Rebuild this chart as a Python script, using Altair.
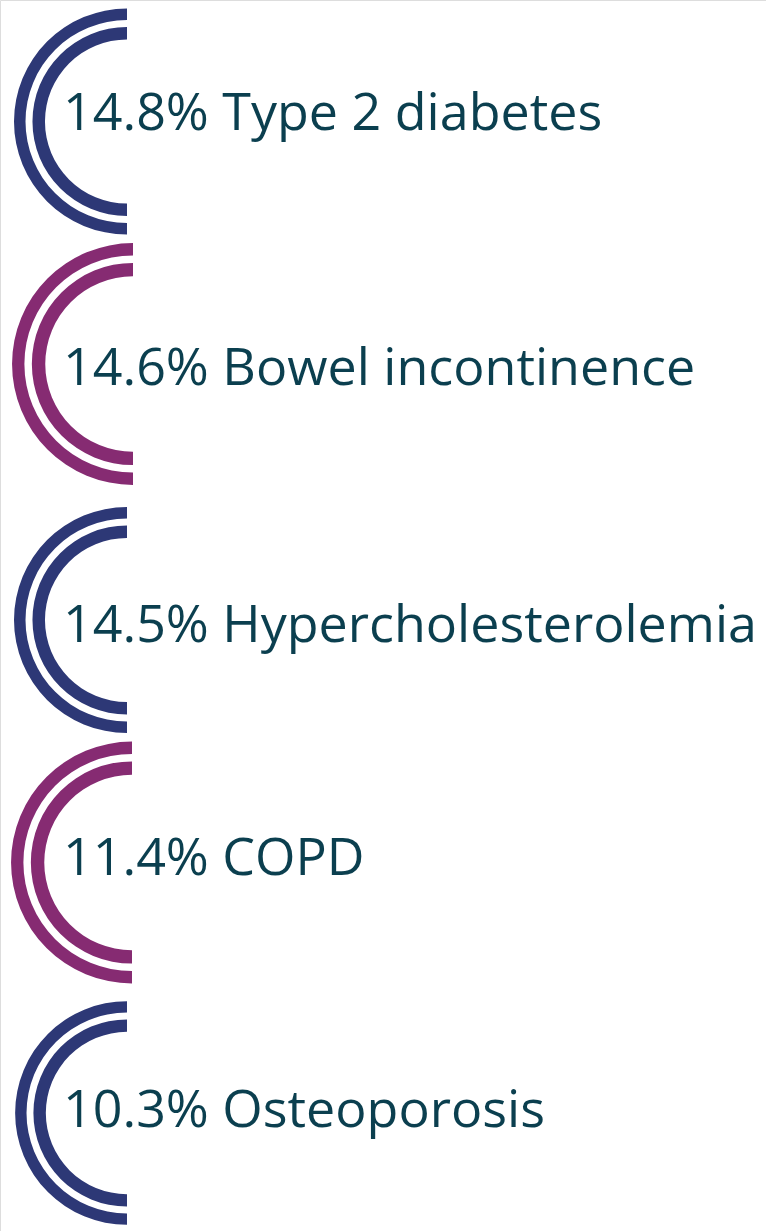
import math
import altair as alt
import pandas as pd

# Comorbidity prevalence, one double ring per condition
conditions = ["Type 2 diabetes", "Bowel incontinence", "Hypercholesterolemia", "COPD", "Osteoporosis"]
prevalence = [14.8, 14.6, 14.5, 11.4, 10.3]
ring_colors = ["#2d3876", "#862b72", "#2d3876", "#862b72", "#2d3876"]

# Layout constants (pixels)
W, H = 766, 1231
ring_cx = [127, 133, 127, 132, 127]
ring_cy = [121.5, 364, 620, 862.5, 1113]
ring_scale = [1.0, 1.07, 1.0, 1.07, 0.99]
text_baseline = [130, 385, 642, 875, 1127]
TEXT_X = 63
# inner/outer radii of the two bands for a ring of scale 1
BANDS = [(101.5, 113.0), (82.0, 94.5)]

rings = []
for i, (cond, col) in enumerate(zip(conditions, ring_colors)):
    for b, (r0, r1) in enumerate(BANDS):
        rings.append({
            "cond": cond, "band": b, "color": col,
            "cx": ring_cx[i], "cy": ring_cy[i],
            "r0": r0 * ring_scale[i], "r1": r1 * ring_scale[i],
        })
rings_df = pd.DataFrame(rings)

labels_df = pd.DataFrame({
    "text": [f"{v}% {c}" for v, c in zip(prevalence, conditions)],
    "x": [TEXT_X] * len(conditions),
    "y": text_baseline,
})

xs = alt.Scale(domain=[0, W], range=[0, W])
ys = alt.Scale(domain=[0, H], range=[0, H])

arcs = alt.Chart(rings_df).mark_arc(
    theta=math.pi, theta2=2 * math.pi
).encode(
    x=alt.X("cx:Q", scale=xs, axis=None),
    y=alt.Y("cy:Q", scale=ys, axis=None),
    radius=alt.Radius("r0:Q", scale=None),
    radius2=alt.Radius2("r1:Q"),
    color=alt.Color("color:N", scale=None),
)

texts = alt.Chart(labels_df).mark_text(
    align="left", baseline="alphabetic", font="Open Sans", fontSize=52,
    color="#0b3f4f",
).encode(
    x=alt.X("x:Q", scale=xs, axis=None),
    y=alt.Y("y:Q", scale=ys, axis=None),
    text="text:N",
)

chart = alt.layer(arcs, texts).properties(
    width=W, height=H, padding=0, autosize=alt.AutoSizeParams(type="none")
).configure_view(strokeWidth=0).configure(background="white")

chart.save("out.html", embed_options={"renderer": "svg", "actions": False})
